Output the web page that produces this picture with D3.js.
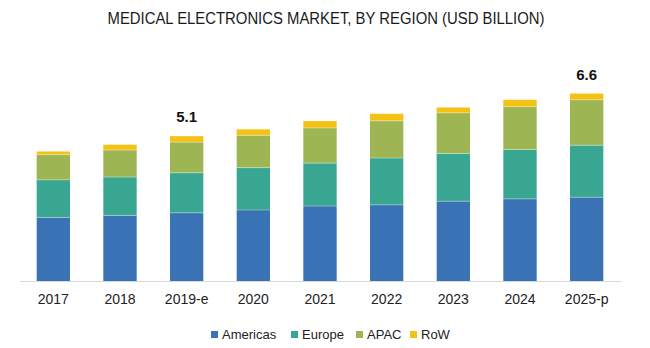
<!DOCTYPE html>
<html lang="en">
  <head>
    <meta charset="utf-8" />
    <title>Medical Electronics Market</title>
    <script src="https://cdn.jsdelivr.net/npm/d3@7"></script>
    <style>
      body { margin: 0; background: #fff; }
    </style>
  </head>
  <body>
    <script>
      // values, USD billion
      const years = ["2017", "2018", "2019-e", "2020", "2021", "2022", "2023", "2024", "2025-p"];
      const regions = ["Americas", "Europe", "APAC", "RoW"];
      const americas = [2.24, 2.31, 2.40, 2.50, 2.64, 2.68, 2.81, 2.89, 2.95];
      const europe = [1.32, 1.35, 1.41, 1.49, 1.51, 1.65, 1.68, 1.74, 1.83];
      const apac = [0.89, 0.95, 1.08, 1.14, 1.24, 1.31, 1.43, 1.51, 1.60];
      const row = [0.11, 0.19, 0.21, 0.21, 0.24, 0.25, 0.19, 0.24, 0.22];
      const totalLabels = [null, null, "5.1", null, null, null, null, null, "6.6"];

      const colors = {
        Americas: "#3a73b5",
        Europe: "#38a690",
        APAC: "#9db653",
        RoW: "#f4c114"
      };

      const width = 650,
        height = 348;

      const svg = d3
        .select("body")
        .append("svg")
        .attr("width", width)
        .attr("height", height)
        .style("font-family", "'Liberation Sans', Arial, sans-serif");

      const table = years.map((y, i) => ({
        year: y,
        Americas: americas[i],
        Europe: europe[i],
        APAC: apac[i],
        RoW: row[i]
      }));

      const x = d3
        .scaleBand()
        .domain(years)
        .range([20, 620])
        .paddingInner(0.5)
        .paddingOuter(0.25);
      const y = d3.scaleLinear().domain([0, 7]).range([281, 82.2]);

      const stack = d3.stack().keys(regions)(table);

      // title
      svg
        .append("text")
        .attr("x", 326)
        .attr("y", 24)
        .attr("text-anchor", "middle")
        .attr("textLength", 437)
        .attr("lengthAdjust", "spacingAndGlyphs")
        .style("font-family", "'Liberation Sans Narrow', 'Liberation Sans', Arial, sans-serif")
        .style("font-size", "16px")
        .attr("fill", "#1a1a1a")
        .text("MEDICAL ELECTRONICS MARKET, BY REGION (USD BILLION)");

      // bars
      svg
        .append("g")
        .selectAll("g")
        .data(stack)
        .enter()
        .append("g")
        .attr("fill", (d) => colors[d.key])
        .selectAll("rect")
        .data((d) => d)
        .enter()
        .append("rect")
        .attr("x", (d) => x(d.data.year))
        .attr("width", x.bandwidth())
        .attr("y", (d) => y(d[1]))
        .attr("height", (d) => y(d[0]) - y(d[1]));

      // thin light separators between segments like the original
      svg
        .append("g")
        .selectAll("line")
        .data(stack.slice(0, 3).flat())
        .enter()
        .append("line")
        .attr("x1", (d) => x(d.data.year))
        .attr("x2", (d) => x(d.data.year) + x.bandwidth())
        .attr("y1", (d) => y(d[1]))
        .attr("y2", (d) => y(d[1]))
        .attr("stroke", "#ffffff")
        .attr("stroke-opacity", 0.45)
        .attr("stroke-width", 0.8);

      // x axis
      const xAxis = svg
        .append("g")
        .attr("transform", "translate(0,281)")
        .call(d3.axisBottom(x).tickSize(0).tickPadding(13));
      xAxis.select(".domain").attr("stroke", "#d9d9d9").attr("d", "M20,0.5H622");
      xAxis
        .selectAll("text")
        .style("font-family", "'Liberation Sans', Arial, sans-serif")
        .style("font-size", "14px")
        .attr("fill", "#222");

      // total labels
      svg
        .append("g")
        .selectAll("text")
        .data(table.filter((d, i) => totalLabels[i]))
        .enter()
        .append("text")
        .attr("x", (d) => x(d.year) + x.bandwidth() / 2)
        .attr("y", (d) => y(d.Americas + d.Europe + d.APAC + d.RoW) - 14)
        .attr("text-anchor", "middle")
        .style("font-size", "15px")
        .style("font-weight", "bold")
        .attr("fill", "#111")
        .text((d) => totalLabels[years.indexOf(d.year)]);

      // legend
      const legendX = [211, 291, 356, 410];
      const legend = svg
        .append("g")
        .selectAll("g")
        .data(regions)
        .enter()
        .append("g")
        .attr("transform", (d, i) => `translate(${legendX[i]},331)`);
      legend
        .append("rect")
        .attr("width", 7)
        .attr("height", 7)
        .attr("fill", (d) => colors[d]);
      legend
        .append("text")
        .attr("x", 11)
        .attr("y", 7.5)
        .style("font-size", "13px")
        .attr("fill", "#222")
        .text((d) => d);
    </script>
  </body>
</html>
